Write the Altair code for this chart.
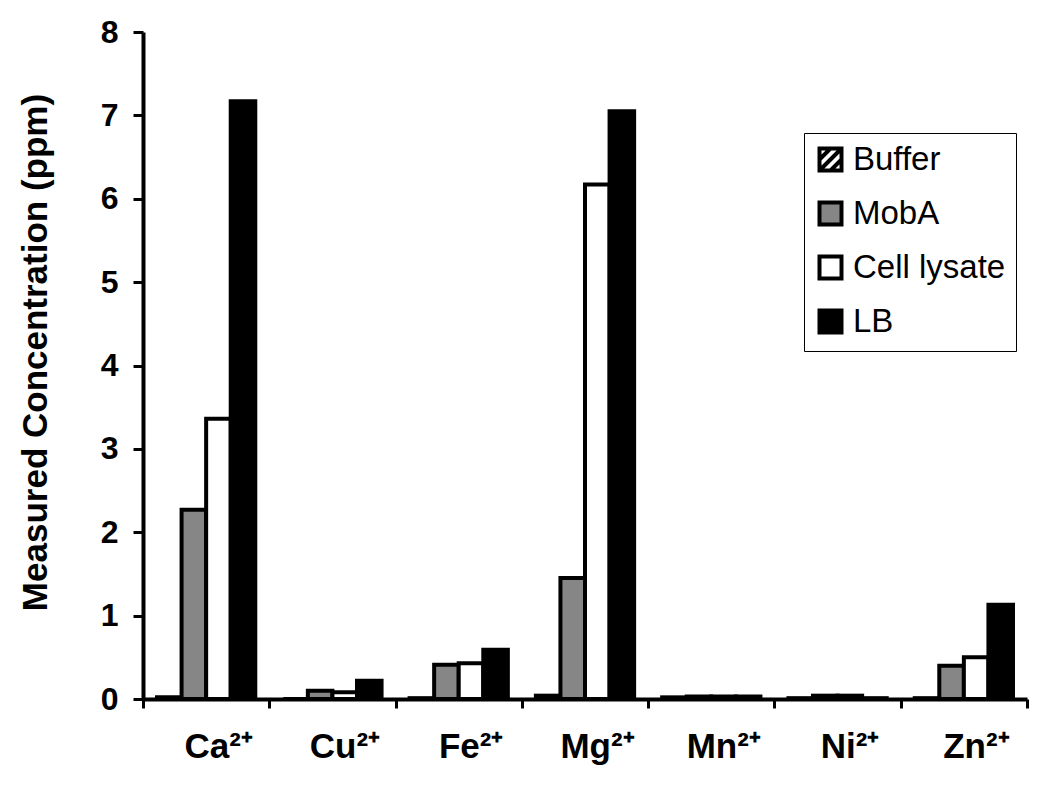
import altair as alt
import pandas as pd

ions = ["Ca²⁺", "Cu²⁺", "Fe²⁺", "Mg²⁺", "Mn²⁺", "Ni²⁺", "Zn²⁺"]
samples = ["Buffer", "MobA", "Cell lysate", "LB"]
buffer_vals = [0.02, 0.00, 0.01, 0.04, 0.02, 0.01, 0.01]
moba_vals = [2.27, 0.10, 0.41, 1.45, 0.03, 0.04, 0.40]
lysate_vals = [3.36, 0.08, 0.43, 6.17, 0.03, 0.04, 0.50]
lb_vals = [7.17, 0.22, 0.59, 7.05, 0.03, 0.01, 1.13]
y_ticks = [0, 1, 2, 3, 4, 5, 6, 7, 8]

series = {"Buffer": buffer_vals, "MobA": moba_vals, "Cell lysate": lysate_vals, "LB": lb_vals}
rows = []
for s in samples:
    for ion, v in zip(ions, series[s]):
        rows.append({"Ion": ion, "Sample": s, "Value": v})
df = pd.DataFrame(rows)

FONT = "Liberation Sans"
fill_colors = ["white", "#868686", "white", "black"]
stroke_colors = ["black", "black", "black", "black"]
hatch = ("M-1,-1L1,-1L1,1L-1,1Z "
         "M-1,0L0,-1 M-1,1L1,-1 M0,1L1,0")
shape_scale = alt.Scale(domain=samples, range=[hatch, "square", "square", "square"])

legend = alt.Legend(
    title=None, orient="none", legendX=661, legendY=101,
    labelFont=FONT, labelFontSize=33, labelColor="black",
    symbolSize=484, symbolStrokeColor="black", symbolStrokeWidth=4,
    symbolOpacity=1, rowPadding=15, labelOffset=6, padding=10,
    strokeColor="black", fillColor="white", cornerRadius=0,
)

base = alt.Chart(df)

bars = base.mark_bar(stroke="black", strokeWidth=4).encode(
    x=alt.X("Ion:N", sort=ions,
            scale=alt.Scale(domain=ions, paddingInner=0, paddingOuter=0),
            axis=alt.Axis(title=None, labelAngle=0, labelFont=FONT, labelFontSize=35,
                          labelFontWeight="bold", labelColor="black", labelPadding=21,
                          labelOffset=12, tickBand="extent", tickSize=9, tickWidth=3,
                          tickColor="black", domainColor="black", domainWidth=4,
                          grid=False, zindex=1)),
    xOffset=alt.XOffset("Sample:N", sort=samples,
                        scale=alt.Scale(domain=samples, paddingInner=0, paddingOuter=0.57)),
    y=alt.Y("Value:Q",
            scale=alt.Scale(domain=[0, 8], nice=False),
            axis=alt.Axis(title="Measured Concentration (ppm)", values=y_ticks,
                          labelFont=FONT, labelFontSize=32, labelFontWeight="bold",
                          labelColor="black", labelPadding=15, tickSize=10, tickWidth=3,
                          tickColor="black", domainColor="black", domainWidth=4,
                          grid=False, titleFont=FONT, titleFontSize=35,
                          titleFontWeight="bold", titleColor="black", titleLimit=2000,
                          titleX=-90, titleY=320, titleAngle=-90, titleBaseline="bottom",
                          zindex=1)),
    fill=alt.Fill("Sample:N", scale=alt.Scale(domain=samples, range=fill_colors), legend=None),
)

legend_pts = base.mark_point(opacity=0, filled=True, strokeWidth=4).encode(
    fill=alt.Fill("Sample:N", scale=alt.Scale(domain=samples, range=fill_colors),
                  sort=samples, legend=legend),
    stroke=alt.Stroke("Sample:N", scale=alt.Scale(domain=samples, range=stroke_colors),
                      sort=samples, legend=legend),
    shape=alt.Shape("Sample:N", scale=shape_scale, sort=samples, legend=legend),
)

chart = alt.layer(bars, legend_pts).resolve_scale(
    fill="independent", shape="independent", stroke="independent"
).properties(
    width=884, height=667,
    autosize=alt.AutoSizeParams(type="none"),
    padding={"left": 135, "top": 24, "right": 15, "bottom": 78},
    background="white",
).configure_view(stroke=None)

chart.save("out.html", embed_options={"renderer": "svg", "actions": False})
